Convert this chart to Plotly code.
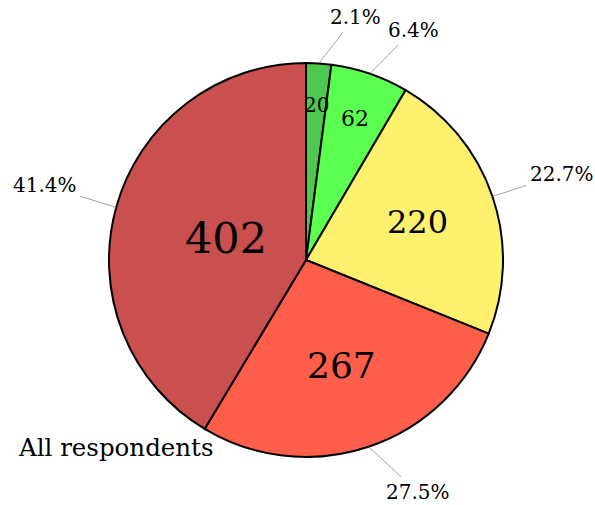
import math
import plotly.graph_objects as go

# ---- data ----
categories = ["A", "B", "C", "D", "E"]
counts = [20, 62, 220, 267, 402]
slice_colors = ["#4fc84f", "#5bff50", "#fff06e", "#ff5e4b", "#c9504f"]
caption = "All respondents"

# ---- style ----
W, H = 595, 505
FONT = "DejaVu Serif"
value_font_sizes = [20, 22, 32, 36, 43]
value_radius = [0.79, 0.76, 0.60, 0.565, 0.42]
pct_radius = [1.26, 1.29, 1.37, 1.31, 1.38]
pct_nudge_deg = [7.7, 6.1, 0.2, -7.2, 0.5]

CX, CY, R = 306, 260, 197  # pie center / radius in pixels (top-left origin)

def to_paper(px, py):
    return px / W, 1 - py / H

fig = go.Figure()
fig.add_trace(go.Pie(
    labels=categories, values=counts, sort=False, direction="clockwise",
    rotation=0, textinfo="none", hoverinfo="skip", showlegend=False,
    marker=dict(colors=slice_colors, line=dict(color="black", width=2)),
    domain=dict(x=[(CX - R) / W, (CX + R) / W], y=[(H - CY - R) / H, (H - CY + R) / H]),
))

total = sum(counts)
annotations = []
cum = 0
for i, v in enumerate(counts):
    mid = (cum + v / 2) / total * 2 * math.pi
    cum += v
    # value label inside
    f = value_radius[i]
    px, py = CX + R * f * math.sin(mid), CY - R * f * math.cos(mid)
    x, y = to_paper(px, py)
    annotations.append(dict(x=x, y=y, xref="paper", yref="paper", text=str(v),
                            showarrow=False, xanchor="center", yanchor="middle",
                            font=dict(family=FONT, size=value_font_sizes[i], color="black")))
    # percent label outside with leader line
    ex, ey = CX + R * math.sin(mid), CY - R * math.cos(mid)
    la = mid + math.radians(pct_nudge_deg[i])
    lx, ly = CX + R * pct_radius[i] * math.sin(la), CY - R * pct_radius[i] * math.cos(la)
    x, y = to_paper(ex, ey)
    annotations.append(dict(x=x, y=y, xref="paper", yref="paper",
                            text=f"{100 * v / total:.1f}%",
                            showarrow=True, arrowhead=0, arrowwidth=0.8, arrowcolor="#8a8a8a",
                            ax=lx - ex, ay=ly - ey, standoff=0, borderpad=3,
                            font=dict(family=FONT, size=20, color="black")))

cx, cy = to_paper(116, 447)
annotations.append(dict(x=cx, y=cy, xref="paper", yref="paper", text=caption,
                        showarrow=False, xanchor="center", yanchor="middle",
                        font=dict(family=FONT, size=24.5, color="black")))

fig.update_layout(width=W, height=H, margin=dict(l=0, r=0, t=0, b=0),
                  paper_bgcolor="white", plot_bgcolor="white",
                  annotations=annotations)
fig.write_html("out.html")
